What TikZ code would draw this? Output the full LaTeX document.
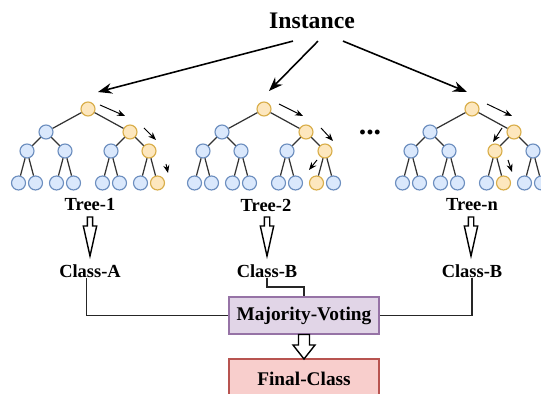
\documentclass[tikz,border=0pt]{standalone}
\usepackage{fontspec}
\setmainfont{Liberation Serif}
\usetikzlibrary{arrows.meta}
\definecolor{leafblue}{HTML}{DAE8FC}
\definecolor{leafline}{HTML}{6C8EBF}
\definecolor{pathfill}{HTML}{FDE7BE}
\definecolor{pathline}{HTML}{D9AE4A}
\definecolor{votefill}{HTML}{E1D5E7}
\definecolor{voteline}{HTML}{9673A6}
\definecolor{finalfill}{HTML}{F8CECC}
\definecolor{finalline}{HTML}{B85450}
% x, top, head start, tip, half shaft, half head
\newcommand{\blockarrow}[6]{\draw[hollow] (#1-#5,-#2) -- (#1-#5,-#3) -- (#1-#6,-#3) -- (#1,-#4) -- (#1+#6,-#3) -- (#1+#5,-#3) -- (#1+#5,-#2) -- cycle;}
\begin{document}
\begin{tikzpicture}[x=0.02cm,y=0.02cm,
  bnode/.style={circle,draw=leafline,fill=leafblue,line width=.65pt,minimum size=.28cm,inner sep=0pt},
  onode/.style={bnode,draw=pathline,fill=pathfill},
  every child node/.style={bnode},
  edge from parent/.style={draw=black!80,line width=.7pt},
  level 1/.style={sibling distance=1.68cm,level distance=.46cm},
  level 2/.style={sibling distance=.76cm,level distance=.38cm},
  level 3/.style={sibling distance=.34cm,level distance=.64cm},
  walk/.style={-{Stealth[length=4.5pt,width=3.5pt]},line width=.55pt},
  feed/.style={-{Stealth[length=8pt,width=6pt]},line width=.9pt},
  link/.style={line width=.9pt,draw=black!85},
  hollow/.style={draw=black,line width=.8pt,fill=white},
  lab/.style={font=\bfseries\fontsize{10.5}{12}\selectfont},
  box/.style={draw,line width=.7pt,minimum width=3cm,minimum height=.74cm,font=\bfseries\fontsize{11}{13}\selectfont}]
\useasboundingbox (0,0) rectangle (541,-394);
\clip (0,0) rectangle (541,-394);

\node[font=\bfseries\fontsize{13.5}{15}\selectfont] (inst) at (312,-21) {Instance};
\coordinate (in1) at (98,-92);
\coordinate (in2) at (269,-91);
\coordinate (in3) at (467,-92);
\draw[feed] ([shift={(-19,-6)}]inst.south) -- (in1);
\draw[feed] ([shift={(6,-6)}]inst.south) -- (in2);
\draw[feed] ([shift={(31,-6)}]inst.south) -- (in3);

% tree 1
\node[onode] (ta) at (88,-109) {}
  child {node {}
    child {node {} child {node {}} child {node {}}}
    child {node {} child {node {}} child {node {}}}}
  child {node[onode] {}
    child {node {} child {node {}} child {node {}}}
    child {node[onode] {} child {node {}} child {node[onode] {}}}};
\draw[walk] (100,-105) -- (125,-116);
\draw[walk] (144,-128) -- (156,-140);
\draw[walk] (166,-164) -- (168,-173);

% tree 2
\node[onode] (tb) at (264,-109) {}
  child {node {}
    child {node {} child {node {}} child {node {}}}
    child {node {} child {node {}} child {node {}}}}
  child {node[onode] {}
    child {node {} child {node {}} child {node {}}}
    child {node[onode] {} child {node[onode] {}} child {node {}}}};
\draw[walk] (279,-104) -- (303,-116);
\draw[walk] (321,-128) -- (333,-141);
\draw[walk] (317,-160) -- (309,-170);

\node[font=\bfseries\fontsize{17}{19}\selectfont] (dots) at (370,-133) {...};

% tree n
\node[onode] (tn) at (472,-109) {}
  child {node {}
    child {node {} child {node {}} child {node {}}}
    child {node {} child {node {}} child {node {}}}}
  child {node[onode] {}
    child {node[onode] {} child {node {}} child {node[onode] {}}}
    child {node {} child {node {}} child {node {}}}};
\draw[walk] (487,-104) -- (512,-116);
\draw[walk] (502,-128) -- (493,-142);
\draw[walk] (508,-160) -- (512,-172);

\node[lab] (t1lab) at (90,-205) {Tree-1};
\node[lab] (t2lab) at (266,-205) {Tree-2};
\node[lab] (tnlab) at (472,-205) {Tree-n};
\blockarrow{90}{217}{226}{256}{2.7}{6.7}
\blockarrow{267}{217}{226}{256}{2.7}{6.7}
\blockarrow{471}{217}{226}{256}{2.7}{6.7}

\node[lab] (ca) at (90,-271) {Class-A};
\node[lab] (cb2) at (267,-271) {Class-B};
\node[lab] (cb3) at (472,-271) {Class-B};

\node[box,draw=voteline,fill=votefill] (mv) at (304,-315.5) {Majority-Voting};
\node[box,draw=finalline,fill=finalfill,minimum height=.8cm] (fc) at (304,-379) {Final-Class};
\blockarrow{304}{334.5}{345}{359}{5.5}{11}

\draw[link] ([xshift=-2,yshift=-4]ca.center) |- (mv.west);
\draw[link] ([yshift=-4]cb2.center) -- ++(0,-9) -| (mv.north);
\draw[link] ([yshift=-4]cb3.center) |- (mv.east);
\end{tikzpicture}
\end{document}
